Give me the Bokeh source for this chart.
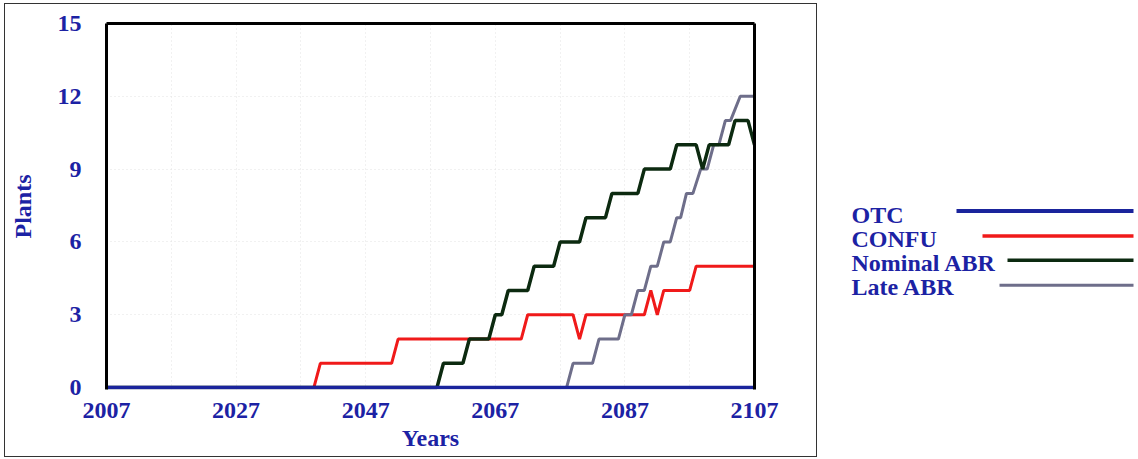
from bokeh.plotting import figure
from bokeh.layouts import row
from bokeh.models import Range1d, FixedTicker, LinearAxis, ColumnDataSource
from bokeh.core.properties import value
from bokeh.embed import file_html
from bokeh.resources import INLINE

# ---------------- data ----------------
series_names = ["OTC", "CONFU", "Nominal ABR", "Late ABR"]

otc_years = [2007, 2107]
otc_plants = [0, 0]

confu_years = [2007, 2039, 2040, 2051, 2052, 2071, 2072, 2079, 2080, 2081,
               2090, 2091, 2092, 2093, 2097, 2098, 2107]
confu_plants = [0, 0, 1, 1, 2, 2, 3, 3, 2, 3, 3, 4, 3, 4, 4, 5, 5]

nominal_years = [2007, 2058, 2059, 2062, 2063, 2066, 2067, 2068, 2069, 2072,
                 2073, 2076, 2077, 2080, 2081, 2084, 2085, 2089, 2090, 2094,
                 2095, 2098, 2099, 2100, 2103, 2104, 2106, 2107]
nominal_plants = [0, 0, 1, 1, 2, 2, 3, 3, 4, 4, 5, 5, 6, 6, 7, 7, 8, 8, 9, 9,
                  10, 10, 9, 10, 10, 11, 11, 10]

late_years = [2007, 2078, 2079, 2082, 2083, 2086, 2087, 2088, 2089, 2090,
              2091, 2092, 2093, 2094, 2095, 2095.6, 2096.5, 2097.5, 2098.7,
              2099.7, 2100.7, 2101.5, 2102.5, 2103.3, 2104.8, 2107]
late_plants = [0, 0, 1, 1, 2, 2, 3, 3, 4, 4, 5, 5, 6, 6, 7, 7, 8, 8, 9, 9,
               10, 10, 11, 11, 12, 12]

x_ticks = [2007, 2027, 2047, 2067, 2087, 2107]
y_ticks = [0, 3, 6, 9, 12, 15]
grid_years = [2017, 2027, 2037, 2047, 2057, 2067, 2077, 2087, 2097]
grid_plants = [3, 6, 9, 12]

# ---------------- styling ----------------
TEXT_BLUE = "#1c22a4"
COLORS = ["#1a249c", "#f01a1a", "#0c2a10", "#6e6e8a"]
WIDTHS = [3.5, 3, 3.5, 3]
FONT = "Liberation Serif"
FS = "24px"

p = figure(width=813, height=454,
           x_range=Range1d(2007, 2107), y_range=Range1d(-0.08, 15),
           output_backend="svg", toolbar_location=None,
           min_border_left=101, min_border_right=64,
           min_border_top=19, min_border_bottom=69,
           styles={"border": "1.5px solid #333333",
                   "margin-left": "4px", "margin-top": "3px"})
p.outline_line_color = None
p.background_fill_color = "white"
p.border_fill_color = "white"

p.xaxis.ticker = FixedTicker(ticks=x_ticks)
p.yaxis.ticker = FixedTicker(ticks=y_ticks)
for ax in (p.xaxis[0], p.yaxis[0]):
    ax.major_tick_line_color = None
    ax.minor_tick_line_color = None
    ax.major_tick_out = 0
    ax.major_tick_in = 0
    ax.major_label_text_font = FONT
    ax.major_label_text_font_style = "bold"
    ax.major_label_text_font_size = FS
    ax.major_label_text_color = TEXT_BLUE
    ax.axis_label_text_font = FONT
    ax.axis_label_text_font_style = "bold"
    ax.axis_label_text_font_size = FS
    ax.axis_label_text_color = TEXT_BLUE

p.xaxis.axis_label = "Years"
p.yaxis.axis_label = "Plants"
p.xaxis.axis_line_color = None
p.xaxis.major_label_standoff = 13
p.xaxis.axis_label_standoff = 4
p.yaxis.axis_line_color = "black"
p.yaxis.axis_line_width = 3
p.yaxis.major_label_standoff = 25
p.yaxis.axis_label_standoff = 19

for loc in ("above", "right"):
    ax = LinearAxis(ticker=FixedTicker(ticks=[]), axis_line_color="black",
                    axis_line_width=3, major_tick_line_color=None,
                    minor_tick_line_color=None, major_tick_out=0,
                    major_tick_in=0, major_label_text_font_size="0px",
                    major_label_standoff=0)
    p.add_layout(ax, loc)

p.xgrid.ticker = FixedTicker(ticks=grid_years)
p.ygrid.ticker = FixedTicker(ticks=grid_plants)
p.grid.grid_line_color = "#e2e2e2"
p.grid.grid_line_dash = "1 3"
p.grid.grid_line_width = 1

# ---------------- series ----------------
p.line(confu_years, confu_plants, line_color=COLORS[1], line_width=WIDTHS[1])
p.line(late_years, late_plants, line_color=COLORS[3], line_width=WIDTHS[3])
p.line(nominal_years, nominal_plants, line_color=COLORS[2], line_width=WIDTHS[2])
p.line(otc_years, otc_plants, line_color=COLORS[0], line_width=WIDTHS[0])

# ---------------- legend panel (label first, then sample line) ----------------
# The legend panel's frame is aligned with the chart frame by the row layout,
# so its y range is expressed in page pixels (top of frame = 23, bottom = 389).
LW, LH = 317, 455
leg = figure(width=LW, height=LH, x_range=Range1d(0, LW), y_range=Range1d(389, 23),
             output_backend="svg", toolbar_location=None,
             x_axis_type=None, y_axis_type=None, min_border=0)
leg.outline_line_color = None
leg.grid.visible = False

leg_src = ColumnDataSource(dict(
    name=series_names,
    tx=[34, 34, 34, 34],
    ty=[217.5, 242, 266, 290],
    x0=[139, 165, 190, 182],
    x1=[316, 316, 316, 316],
    ly=[214, 239, 263, 288],
    color=COLORS,
    lw=[4, 3.5, 3.5, 3],
))
leg.text(x="tx", y="ty", text="name", source=leg_src,
         text_font=value(FONT), text_font_style="bold", text_font_size=FS,
         text_color=TEXT_BLUE, text_baseline="middle", text_align="left")
leg.segment(x0="x0", y0="ly", x1="x1", y1="ly", source=leg_src,
            line_color="color", line_width="lw")

layout = row(p, leg)
open("out.html", "w").write(file_html(layout, INLINE))
